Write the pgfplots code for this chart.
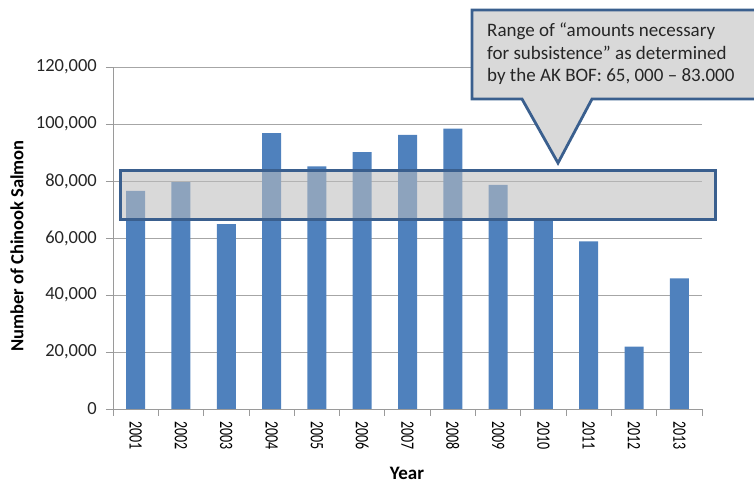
\documentclass[border=0pt]{standalone}
\usepackage{pgfplots}
\pgfplotsset{compat=1.18}
\usepackage{fontspec}
\setmainfont{Carlito}
\definecolor{barblue}{HTML}{4F81BD}
\definecolor{boxblue}{HTML}{3A5F8E}
\definecolor{callgray}{HTML}{D9D9D9}
\definecolor{rangegray}{HTML}{BDBDBD}
\definecolor{gridgray}{HTML}{A6A6A6}
\definecolor{axisgray}{HTML}{9A9A9A}
\definecolor{txt}{HTML}{262626}
\begin{document}
\begin{tikzpicture}[x=1pt,y=1pt]
\path[use as bounding box, clip] (0,0) rectangle (754,484);
\begin{axis}[
  at={(113pt,75pt)}, anchor=south west,
  scale only axis, width=589pt, height=342pt,
  xmin=-0.5, xmax=12.5, ymin=0, ymax=120000,
  ybar, bar width=19pt,
  axis x line*=bottom, axis y line*=left,
  axis line style={axisgray, line width=0.8pt},
  tick align=outside,
  scaled y ticks=false,
  xtick={0,...,12},
  xticklabels={2001,2002,2003,2004,2005,2006,2007,2008,2009,2010,2011,2012,2013},
  major x tick style={draw=none},
  minor xtick={-0.5,0.5,...,12.5},
  minor x tick style={axisgray, line width=0.8pt},
  minor tick length=7pt,
  x tick label style={font=\fontsize{14}{14}\selectfont, text=black, rotate=-90, yscale=1.35, anchor=west, inner sep=0pt, xshift=5pt},
  ytick={0,20000,40000,60000,80000,100000,120000},
  yticklabels={0,{20,000},{40,000},{60,000},{80,000},{100,000},{120,000}},
  major y tick style={axisgray, line width=0.8pt},
  major tick length=7pt,
  y tick label style={font=\fontsize{18.5}{18.5}\selectfont, text=txt, anchor=east, inner sep=0pt, xshift=-9pt},
  ymajorgrids=true,
  major grid style={gridgray, line width=0.8pt},
  clip=false,
]
\addplot[fill=barblue, draw=none] coordinates {
(0,76500) (1,79600) (2,64900) (3,96800) (4,85100) (5,90100) (6,96200)
(7,98400) (8,78600) (9,66500) (10,58800) (11,21900) (12,45800)};
\draw[boxblue, line width=3pt, fill=rangegray, fill opacity=0.57]
  (axis cs:-0.334,66500) rectangle (axis cs:12.80,83700);
\end{axis}
% callout
\draw[boxblue, line width=2.8pt, fill=callgray, line join=miter]
  (472,385) -- (522,385) -- (558,321) -- (592,385) -- (770,385) -- (770,474) -- (472,474) -- cycle;
\begin{scope}[every node/.style={anchor=base west, inner sep=0pt, font=\fontsize{19}{19}\selectfont, text=txt}]
\node at (487,447.3) {Range of “amounts necessary};
\node at (487,424.8) {for subsistence” as determined};
\node at (487,402.3) {by the AK BOF: 65, 000 – 83.000};
\end{scope}
% axis titles
\node[rotate=90, font=\bfseries\fontsize{18.5}{18.5}\selectfont] at (17,238) {Number of Chinook Salmon};
\node[anchor=base, inner sep=0pt, font=\bfseries\fontsize{19}{19}\selectfont] at (407,5) {Year};
\end{tikzpicture}
\end{document}
